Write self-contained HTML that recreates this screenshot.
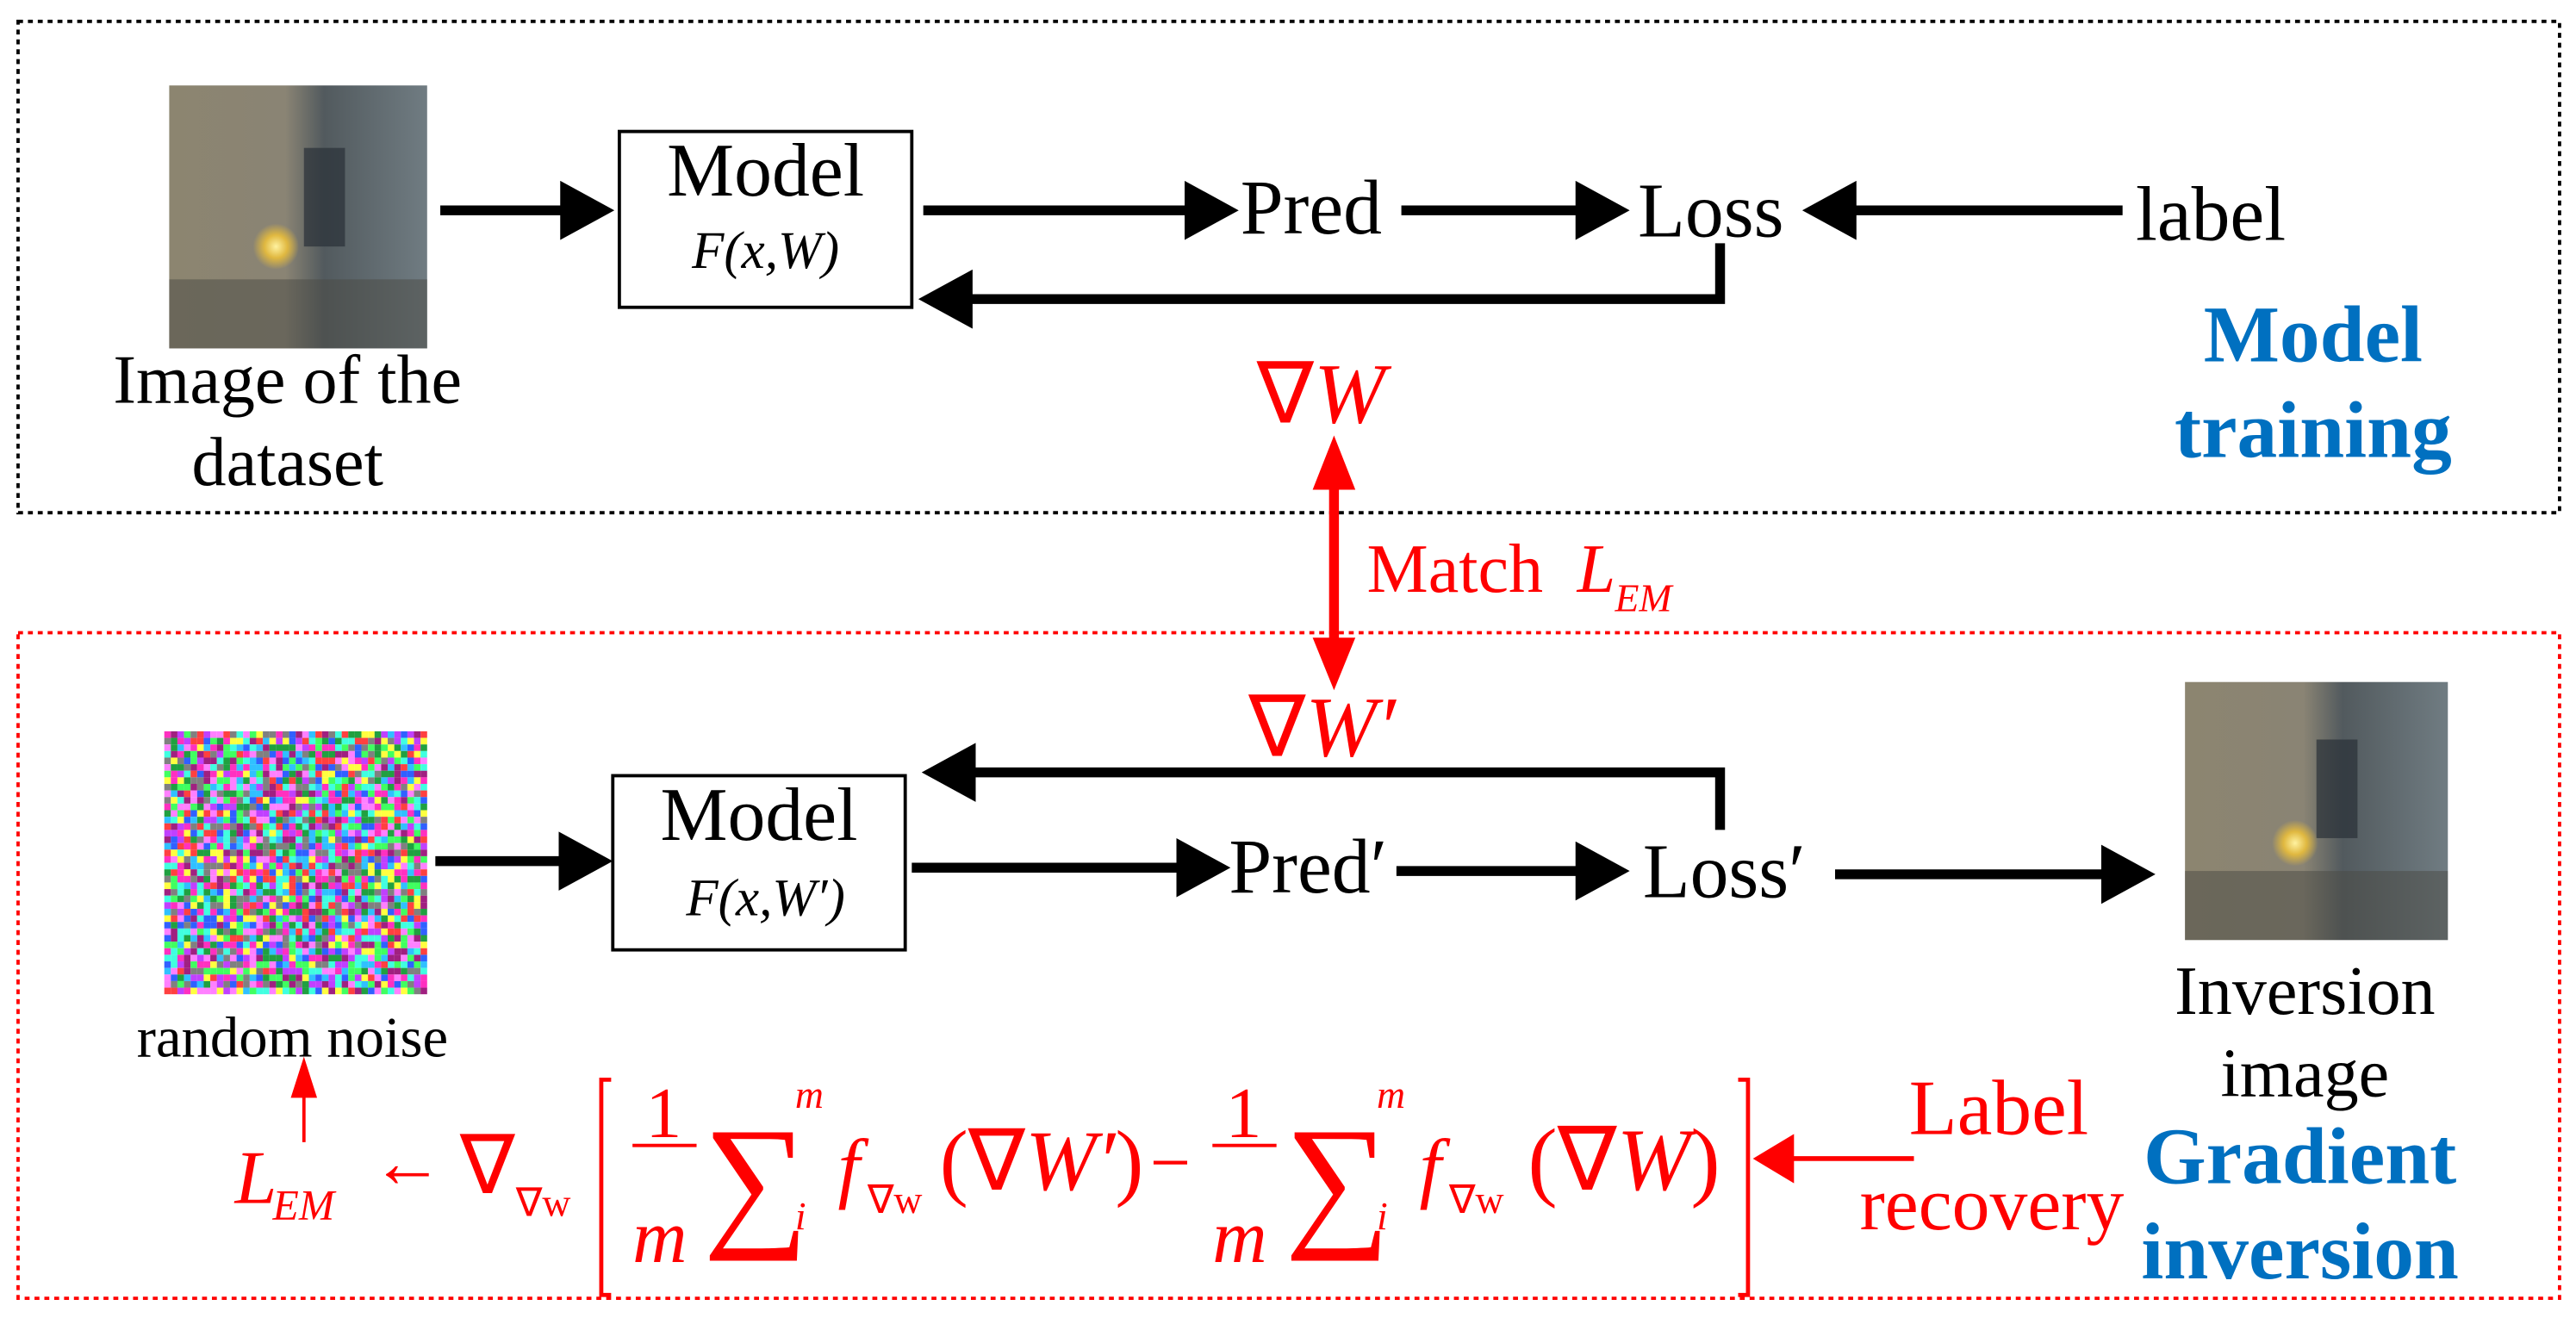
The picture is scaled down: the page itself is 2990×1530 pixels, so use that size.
<!DOCTYPE html>
<html><head><meta charset="utf-8"><style>
html,body{margin:0;padding:0;background:#fff;}
svg{display:block;}
text{font-family:"Liberation Serif",serif;}
</style></head><body>
<svg id="s" width="2990" height="1530" viewBox="0 0 1568 802" preserveAspectRatio="none" xmlns="http://www.w3.org/2000/svg">
<defs>
<marker id="ab" markerWidth="5.5" markerHeight="6" refX="4.5" refY="3" orient="auto" markerUnits="strokeWidth"><path d="M0,0 L5.5,3 L0,6 Z" fill="#000"/></marker>
<linearGradient id="g1" x1="0" x2="1" y1="0" y2="0"><stop offset="0" stop-color="#8c8570"/><stop offset="0.45" stop-color="#8a8474"/><stop offset="0.6" stop-color="#525a5e"/><stop offset="1" stop-color="#707c82"/></linearGradient>
<radialGradient id="sp"><stop offset="0" stop-color="#fff2a0"/><stop offset="0.5" stop-color="#e0b840"/><stop offset="1" stop-color="#e0b840" stop-opacity="0"/></radialGradient>
</defs>
<rect x="11" y="13" width="1547" height="299" fill="none" stroke="#000" stroke-width="2" stroke-dasharray="3,3"/>
<rect x="11" y="385" width="1547" height="405" fill="none" stroke="#f00" stroke-width="2" stroke-dasharray="3,3"/>
<g>
<rect x="103" y="52" width="157" height="160" fill="url(#g1)"/>
<rect x="103" y="170" width="157" height="42" fill="#4a4a44" opacity="0.5"/>
<rect x="185" y="90" width="25" height="60" fill="#2a3038" opacity="0.7"/>
<circle cx="168" cy="150" r="14" fill="url(#sp)"/>
</g>
<text x="175" y="245" font-size="42" text-anchor="middle">Image of the</text>
<text x="175" y="295" font-size="42" text-anchor="middle">dataset</text>
<rect x="377" y="80" width="178" height="107" fill="#fff" stroke="#000" stroke-width="2"/>
<text x="466" y="119" font-size="46" text-anchor="middle">Model</text>
<text x="466" y="163" font-size="32" text-anchor="middle" font-style="italic">F(x,W)</text>
<g stroke="#000" stroke-width="6" fill="none" marker-end="url(#ab)">
<line x1="268" y1="128" x2="368" y2="128"/>
<line x1="562" y1="128" x2="748" y2="128"/>
<line x1="853" y1="128" x2="986" y2="128"/>
<line x1="1292" y1="128" x2="1103" y2="128"/>
<polyline points="1047,148 1047,182 565,182"/>
<line x1="265" y1="524" x2="367" y2="524"/>
<line x1="555" y1="528" x2="743" y2="528"/>
<line x1="850" y1="530" x2="986" y2="530"/>
<line x1="1117" y1="532" x2="1306" y2="532"/>
<polyline points="1047,505 1047,470 567,470"/>
</g>
<text x="755" y="142" font-size="47">Pred</text>
<text x="997" y="144" font-size="47">Loss</text>
<text x="1300" y="146" font-size="47">label</text>
<text x="765" y="257" font-size="52" fill="#f00">∇<tspan font-style="italic">W</tspan></text>
<text x="1408" y="220" font-size="49" fill="#0070c0" font-weight="bold" text-anchor="middle">Model</text>
<text x="1408" y="278" font-size="49" fill="#0070c0" font-weight="bold" text-anchor="middle">training</text>
<line x1="812" y1="290" x2="812" y2="395" stroke="#f00" stroke-width="6"/>
<path d="M812,265 L799,298 L825,298 Z M812,420 L799,388 L825,388 Z" fill="#f00"/>
<text x="832" y="360" font-size="42" fill="#f00">Match</text>
<text x="960" y="360" font-size="42" fill="#f00" font-style="italic">L</text>
<text x="983" y="372" font-size="24" fill="#f00" font-style="italic">EM</text>
<g id="noise"></g>
<rect x="373" y="472" width="178" height="106" fill="#fff" stroke="#000" stroke-width="2"/>
<text x="462" y="511" font-size="46" text-anchor="middle">Model</text>
<text x="466" y="557" font-size="32" text-anchor="middle" font-style="italic">F(x,W′)</text>
<text x="760" y="460" font-size="52" fill="#f00">∇<tspan font-style="italic">W′</tspan></text>
<text x="748" y="543" font-size="47">Pred′</text>
<text x="1000" y="546" font-size="47">Loss′</text>
<g>
<rect x="1330" y="415" width="160" height="157" fill="url(#g1)"/>
<rect x="1330" y="530" width="160" height="42" fill="#4a4a44" opacity="0.5"/>
<rect x="1410" y="450" width="25" height="60" fill="#2a3038" opacity="0.7"/>
<circle cx="1397" cy="513" r="14" fill="url(#sp)"/>
</g>
<text x="1403" y="617" font-size="42" text-anchor="middle">Inversion</text>
<text x="1403" y="667" font-size="42" text-anchor="middle">image</text>
<text x="178" y="643" font-size="35" text-anchor="middle">random noise</text>
<line x1="185" y1="695" x2="185" y2="665" stroke="#f00" stroke-width="2"/>
<path d="M185,643 L177,668 L193,668 Z" fill="#f00"/>
<g fill="#f00" font-style="italic">
<text x="143" y="732" font-size="46">L</text>
<text x="166" y="742" font-size="26">EM</text>
<text x="226" y="722" font-size="44" font-style="normal">←</text>
<text x="280" y="726" font-size="50" font-style="normal">∇</text>
<text x="314" y="740" font-size="24" font-style="normal">∇w</text>
<text x="393" y="692" font-size="44" font-style="normal">1</text>
<text x="385" y="768" font-size="46">m</text>
<text x="428" y="748" font-size="90" font-style="normal">∑</text>
<text x="484" y="674" font-size="24">m</text>
<text x="484" y="748" font-size="24">i</text>
<text x="510" y="726" font-size="48">f</text>
<text x="528" y="738" font-size="24" font-style="normal">∇w</text>
<text x="572" y="724" font-size="52" font-style="normal">(∇<tspan font-style="italic">W′</tspan>)</text>
<text x="700" y="722" font-size="44" font-style="normal">−</text>
<text x="746" y="692" font-size="44" font-style="normal">1</text>
<text x="738" y="768" font-size="46">m</text>
<text x="782" y="748" font-size="90" font-style="normal">∑</text>
<text x="838" y="674" font-size="24">m</text>
<text x="838" y="748" font-size="24">i</text>
<text x="864" y="726" font-size="48">f</text>
<text x="882" y="738" font-size="24" font-style="normal">∇w</text>
<text x="930" y="724" font-size="54" font-style="normal">(∇<tspan font-style="italic">W</tspan>)</text>
</g>
<line x1="385" y1="697" x2="424" y2="697" stroke="#f00" stroke-width="2"/>
<line x1="738" y1="697" x2="777" y2="697" stroke="#f00" stroke-width="2"/>
<polyline points="372,657 366,657 366,788 372,788" fill="none" stroke="#f00" stroke-width="2.5"/>
<polyline points="1058,657 1064,657 1064,788 1058,788" fill="none" stroke="#f00" stroke-width="2.5"/>
<line x1="1090" y1="705" x2="1165" y2="705" stroke="#f00" stroke-width="3"/>
<path d="M1067,705 L1092,690 L1092,720 Z" fill="#f00"/>
<text x="1162" y="690" font-size="48" fill="#f00">Label</text>
<text x="1132" y="748" font-size="46" fill="#f00">recovery</text>
<text x="1400" y="720" font-size="49" fill="#0070c0" font-weight="bold" text-anchor="middle">Gradient</text>
<text x="1400" y="778" font-size="49" fill="#0070c0" font-weight="bold" text-anchor="middle">inversion</text>
</svg>
<script>
(function(){
var g=document.getElementById('noise'),ns='http://www.w3.org/2000/svg',s=4,seed=7;
function r(){seed=(seed*16807)%2147483647;return seed/2147483647;}
var cols=['#ff30c0','#30c0ff','#40ff60','#c040ff','#ffff40','#3060ff','#ff4040','#40ffe0','#808080','#ff80ff','#20a040','#a02080'];
for(var y=445;y<605;y+=s)for(var x=100;x<260;x+=s){var e=document.createElementNS(ns,'rect');e.setAttribute('x',x);e.setAttribute('y',y);e.setAttribute('width',s);e.setAttribute('height',s);e.setAttribute('fill',cols[Math.floor(r()*cols.length)]);g.appendChild(e);}
})();
</script>
</body></html>
